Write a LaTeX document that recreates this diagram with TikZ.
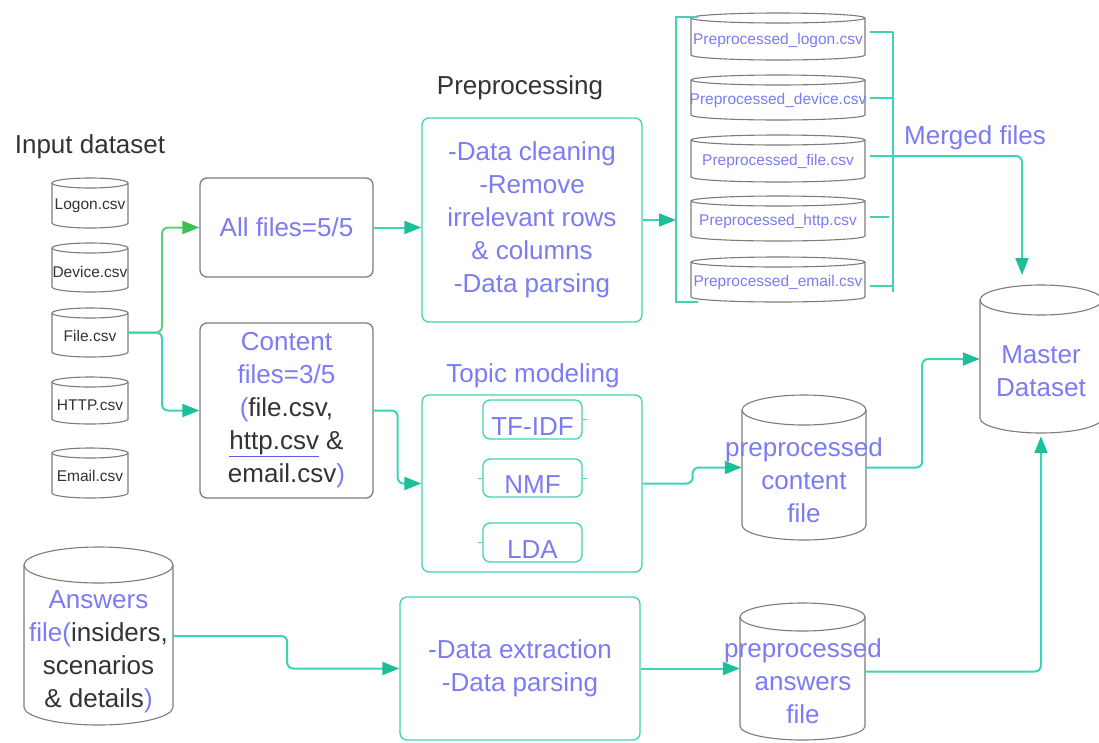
\documentclass[tikz,border=0pt]{standalone}
\usepackage{fontspec}
\setmainfont{Liberation Sans}
\usetikzlibrary{arrows.meta,fit}

\definecolor{ink}{HTML}{7B7BF4}
\definecolor{dark}{HTML}{333333}
\definecolor{boxgray}{HTML}{7C7C7C}
\definecolor{flowteal}{HTML}{3DD3B4}
\definecolor{headteal}{HTML}{1CBF9A}
\definecolor{flowgreen}{HTML}{5ED27A}
\definecolor{headgreen}{HTML}{3DBF58}
\definecolor{ulblue}{HTML}{5B5BF0}

\tikzset{
  big/.style={font=\fontsize{26}{33}\selectfont, align=center, inner sep=0pt},
  small/.style={font=\fontsize{15.5}{18}\selectfont, inner sep=0pt},
  graybox/.style={draw=boxgray, line width=1.3pt, rounded corners=7pt, inner sep=0pt, big, text=ink},
  tealbox/.style={draw=flowteal, line width=1.3pt, rounded corners=7pt, inner sep=0pt, big, text=ink},
  plain/.style={draw=flowteal, line width=2pt, rounded corners=6pt},
  flow/.style={plain, -{Triangle[length=17pt,width=13pt,color=headteal]}},
  greenflow/.style={draw=flowgreen, line width=2pt, rounded corners=6pt, -{Triangle[length=17pt,width=13pt,color=headgreen]}},
  drumline/.style={draw=boxgray, line width=1.1pt},
  title/.style={big, text=dark},
}

% upright data drum: name, left, top, right, bottom, cap half-height
\newcommand\datadrum[6]{%
  \pgfmathsetmacro\drumrx{(#4-#2)/2}%
  \path[drumline, fill=white] (#2,#3+#6) -- (#2,#5-#6)
     arc[start angle=180, end angle=0, x radius=\drumrx, y radius=#6]
     -- (#4,#3+#6)
     arc[start angle=0, end angle=-180, x radius=\drumrx, y radius=#6] -- cycle;
  \draw[drumline] (#2,#3+#6) arc[start angle=180, end angle=0, x radius=\drumrx, y radius=#6];
  \node[fit={(#2,#3) (#4,#5)}, inner sep=0pt] (#1) {};%
}

\begin{document}
\begin{tikzpicture}[x=1pt, y=-1pt]
\useasboundingbox (0,0) rectangle (1099,742);

% ---- input files
\node[title] (intitle) at (90,147) {Input dataset};
\datadrum{logon}{52}{178}{128}{228}{5}
\datadrum{device}{52}{243}{128}{292}{5}
\datadrum{filecsv}{52}{308}{128}{357}{5}
\datadrum{http}{52}{377}{128}{424}{5}
\datadrum{email}{52}{448}{128}{498}{5}
\node[small, text=dark] (logon-t)  at (90,206) {Logon.csv};
\node[small, text=dark] (device-t) at (90,272) {Device.csv};
\node[small, text=dark] (file-t)   at (90,336) {File.csv};
\node[small, text=dark] (http-t)   at (90,405) {HTTP.csv};
\node[small, text=dark] (email-t)  at (90,476) {Email.csv};

% ---- file selections
\node[graybox, minimum width=173pt, minimum height=99pt] (allf) at (286.5,227.5) {All files=5/5};
\node[graybox, minimum width=173pt, minimum height=175pt] (content) at (286.5,410.5)
  {Content\\files=3/5\\(\textcolor{dark}{file.csv,}\\{\color{ulblue}\underline{\textcolor{dark}{http.csv}}}\textcolor{dark}{\ \&}\\\textcolor{dark}{email.csv})};

\coordinate (split) at (162,332.5);
\draw[greenflow] (filecsv.east) -- (split) |- (allf.west);
\draw[flow] (filecsv.east) -- (split) |- (content.west);

% ---- preprocessing
\node[title] (pretitle) at (520,88) {Preprocessing};
\node[tealbox, minimum width=220pt, minimum height=204pt] (pre) at (532,220)
  {-Data cleaning\\-Remove\\irrelevant rows\\\& columns\\-Data parsing};
\draw[flow] (allf.east) -- (allf.east -| pre.west);

% ---- preprocessed files
\datadrum{pl}{691}{13}{865}{60}{5}
\datadrum{pd}{691}{75}{865}{120}{5}
\datadrum{pf}{691}{135}{865}{182}{5}
\datadrum{ph}{691}{196}{865}{241}{5}
\datadrum{pe}{691}{257}{865}{302}{5}
\node[small, text=ink] (pl-t) at (778,40)  {Preprocessed\_logon.csv};
\node[small, text=ink] (pd-t) at (778,100) {Preprocessed\_device.csv};
\node[small, text=ink] (pf-t) at (778,161) {Preprocessed\_file.csv};
\node[small, text=ink] (ph-t) at (778,221) {Preprocessed\_http.csv};
\node[small, text=ink] (pe-t) at (778,282) {Preprocessed\_email.csv};

% left bracket gathering the outputs
\coordinate (bl) at (676,17);
\coordinate (blb) at (676,302);
\draw[plain, rounded corners=0pt] (698,17) -- (bl) -- (blb) -- (698,302);
\draw[flow] (pre.east) -- (pre.east -| bl);

% right bracket merging the outputs
\coordinate (brt) at (893,32);
\coordinate (brb) at (893,292);
\draw[plain, rounded corners=0pt] (brt) -- (brb);
\foreach \yy in {32,98,286} \draw[plain, rounded corners=0pt] (870,\yy) -- (893,\yy);
\draw[plain, rounded corners=0pt] (870,217) -- (889,217);
\coordinate (mrg) at (870,156);
\node[big, text=ink] (mrgtitle) at (975,138) {Merged files};

% ---- master dataset
\datadrum{master}{980}{285}{1102}{433}{15}
\node[big, text=ink] (master-t) at (1041,371) {Master\\Dataset};
\coordinate (mtop) at (1022,275);
\draw[flow] (mrg) -| (mtop);

% ---- topic modeling
\node[big, text=ink] (topictitle) at (533,376) {Topic modeling};
\node[tealbox, minimum width=220pt, minimum height=177pt] (topic) at (532,483.5) {};
\node[tealbox, minimum width=99pt, minimum height=39pt] (tfidf) at (532.5,419.5) {};
\node[tealbox, minimum width=99pt, minimum height=38pt] (nmf) at (532.5,478) {};
\node[tealbox, minimum width=99pt, minimum height=39pt] (lda) at (532.5,542.5) {};
\node[big, text=ink] (tfidf-t) at (532.5,427) {TF-IDF};
\node[big, text=ink] (nmf-t) at (532.5,485) {NMF};
\node[big, text=ink] (lda-t) at (532.5,550) {LDA};
\draw[flowteal, line width=1pt] (tfidf.east) -- ++(4,0);
\draw[flowteal, line width=1pt] (nmf.east) -- ++(4,0);
\draw[flowteal, line width=1pt] (nmf.west) -- ++(-4,0);
\draw[flowteal, line width=1pt] (lda.west) -- ++(-4,0);
\draw[flow] (content.east) -- ++(24,0) |- (topic.west);

\datadrum{pcont}{742}{395}{866}{540}{15}
\node[big, text=ink] (pcont-t) at (804,480.5) {preprocessed\\content\\file};
\draw[flow] (topic.east) -- ++(50,0) |- (pcont.west);
\draw[flow] (pcont.east) -- ++(56,0) |- (master.west);

% ---- answers branch
\datadrum{ans}{24}{547}{173}{725}{18}
\node[big, text=ink] (ans-t) at (98.5,652)
  {Answers\\file(\textcolor{dark}{insiders,}\\\textcolor{dark}{scenarios}\\\textcolor{dark}{\& details})};
\node[tealbox, minimum width=240pt, minimum height=143pt] (ext) at (520,668.5)
  {-Data extraction\\-Data parsing};
\draw[flow] (ans.east) -- ++(114,0) |- (ext.west);

\datadrum{pans}{740}{603}{865}{740}{14}
\node[big, text=ink] (pans-t) at (803,681.5) {preprocessed\\answers\\file};
\draw[flow] (ext.east) -- (ext.east -| pans.west);
\draw[flow, shorten >=3pt] (pans.east) -| (master.south);

\end{tikzpicture}
\end{document}
